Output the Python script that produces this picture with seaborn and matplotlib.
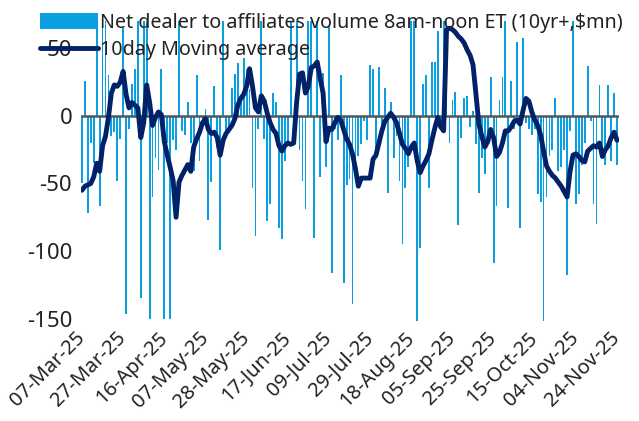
import numpy as np
import pandas as pd
import matplotlib
matplotlib.use("Agg")
import matplotlib.pyplot as plt
from matplotlib.patches import Patch
from matplotlib.lines import Line2D
import seaborn as sns

# ---- data ----
net_volume = [
    -50, 26, -72, -20, -35, 70, -67, 65, 70, 30,
    -15, -12, -48, -17, 65, -147, -10, 24, 35, 70,
    -135, 70, 70, -150, -60, -31, -40, 35, -150, -20,
    -150, -18, -25, 70, -11, -14, 10, -20, -41, 30,
    -33, -10, 5, -77, -49, 22, -23, -99, 70, -12,
    -8, 21, 31, 39, 15, 43, 35, 20, -53, -89,
    -10, 70, -17, -78, -65, 17, 10, -83, -91, -33,
    -20, 70, -15, 70, -25, -48, -69, 70, 70, -90,
    70, -45, 32, -38, 67, -116, -10, -18, 30, -124,
    -51, -47, -139, -38, -30, -21, -4, -18, 38, 35,
    -31, 36, -10, 21, -57, 10, -31, -15, -48, -95,
    -53, -38, 70, 70, -152, -98, 24, 30, -53, 40,
    40, 63, -10, 70, 70, -20, 12, 18, -81, -16,
    13, 15, -8, 4, -21, -57, -31, -43, -15, 29,
    -109, -67, 12, 29, 70, -68, 26, -10, 55, -83,
    58, -5, -10, -14, -10, -58, -64, -152, -60, -30,
    -25, 13, -41, -38, -25, -118, -11, 70, -65, -58,
    -36, -20, 37, -4, -65, -80, 23, -28, -36, 23,
    -33, 17, -36,
]
moving_avg = [
    -55, -52, -51, -50, -45, -35, -41, -22, -15, -1,
    17, 23, 22, 25, 33, 16, 6, 10, 8, 6,
    -16, -5, 23, 10, -7, -1, 3, 1, -19, -29,
    -38, -48, -75, -49, -44, -40, -36, -41, -23, -17,
    -12, -5, -2, -10, -13, -12, -16, -29, -18, -13,
    -10, -7, -2, 8, 13, 16, 22, 35, 22, 6,
    3, 15, 11, 2, -5, -10, -13, -22, -26, -22,
    -20, -21, -20, 10, 31, 32, 17, 22, 36, 37,
    40, 28, 17, -19, -9, -10, -5, -1, -3, -10,
    -17, -21, -28, -39, -52, -46, -46, -46, -46, -32,
    -29, -20, -11, -4, -1, 2, -1, -5, -13, -21,
    -24, -28, -23, -20, -33, -42, -37, -33, -28, -18,
    -9, -1, -8, -11, 64, 65, 64, 62, 59, 57,
    54, 49, 45, 38, 16, -6, -15, -23, -19, -10,
    -16, -30, -27, -20, -11, -11, -8, -4, -3, -6,
    4, 13, 11, 3, -3, -7, -14, -26, -37, -41,
    -44, -46, -49, -52, -56, -60, -41, -29, -28, -30,
    -33, -34, -26, -24, -22, -23, -20, -30, -25, -22,
    -16, -12, -18,
]
tick_labels = [
    "07-Mar-25", "27-Mar-25", "16-Apr-25", "07-May-25", "28-May-25",
    "17-Jun-25", "09-Jul-25", "29-Jul-25", "18-Aug-25", "05-Sep-25",
    "25-Sep-25", "15-Oct-25", "04-Nov-25", "24-Nov-25",
]
y_ticks = [50, 0, -50, -100, -150]

bar_label = "Net dealer to affiliates volume 8am-noon ET (10yr+,$mn)"
line_label = "10day Moving average"

# ---- style ----
sns.set_theme(style="white")
plt.rcParams["font.family"] = ["Noto Sans", "DejaVu Sans"]

BAR_C = "#0A9FE0"
LINE_C = "#012169"
TEXT_C = "#222222"

pos = np.arange(len(net_volume))
df = pd.DataFrame({"pos": pos, "net": net_volume, "ma": moving_avg})

fig = plt.figure(figsize=(6.39, 4.21), dpi=100)
ax = fig.add_axes([0.126, 0.237, 0.842, 0.712])

sns.barplot(data=df, x="pos", y="net", color=BAR_C, saturation=1,
            width=0.62, ax=ax, linewidth=0, edgecolor="none", zorder=1)
ax.axhline(0, color="#555555", lw=1.8, zorder=2)
sns.lineplot(data=df, x="pos", y="ma", color=LINE_C, lw=3.5, ax=ax,
             zorder=3, legend=False)

ax.set_xlim(-0.5, len(net_volume) - 0.5)
ax.set_ylim(-152, 70)
ax.set_yticks(y_ticks)
ax.set_yticklabels([str(v) for v in y_ticks])
ax.set_xticks(pos[::14])
ax.set_xticklabels(tick_labels, rotation=45, ha="right", va="center",
                   rotation_mode="anchor")
ax.tick_params(axis="both", length=0, colors=TEXT_C)
ax.tick_params(axis="x", pad=10, labelsize=14.5)
ax.tick_params(axis="y", pad=6, labelsize=16)
ax.set_xlabel("")
ax.set_ylabel("")
for s in ax.spines.values():
    s.set_visible(False)

handles = [Patch(facecolor=BAR_C, edgecolor="none"),
           Line2D([], [], color=LINE_C, lw=3.5)]
ax.legend(handles, [bar_label, line_label], loc="upper left",
          bbox_to_anchor=(0.063, 0.97), bbox_transform=fig.transFigure,
          frameon=False, fontsize=14.2, handlelength=2.95, handleheight=0.85,
          handletextpad=0.1, labelspacing=0.38, borderaxespad=0,
          borderpad=0, labelcolor=TEXT_C)

fig.savefig("out.png", dpi=100)
